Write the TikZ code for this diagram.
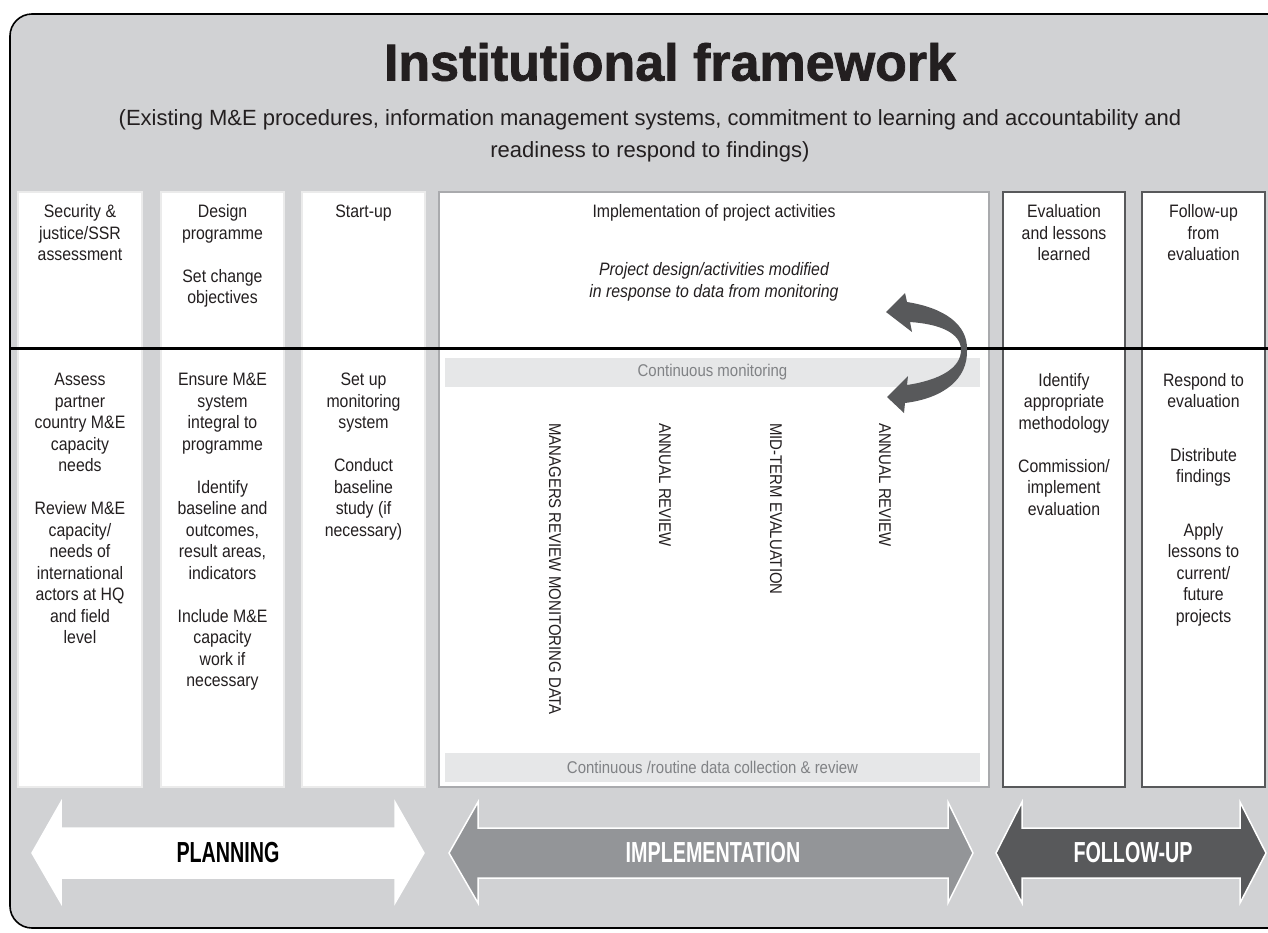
\documentclass[tikz,border=0pt]{standalone}
\usepackage{fontspec}
\setmainfont{Liberation Sans}
\newfontfamily\condfont{Liberation Sans}[FakeStretch=0.88]
\newfontfamily\phasefont{Liberation Sans}[FakeStretch=0.68]
\newfontfamily\titlefont{Liberation Sans Bold}[FakeBold=1.5]
\usetikzlibrary{positioning}
\definecolor{framegray}{HTML}{D1D2D4}
\definecolor{bargray}{HTML}{E6E7E8}
\definecolor{bartext}{HTML}{808285}
\definecolor{darkgray}{HTML}{58595B}
\definecolor{midgray}{HTML}{939598}
\definecolor{inkgray}{HTML}{231F20}
\tikzset{colbox/.style={rectangle,fill=white,draw=#1,line width=1.2pt,minimum height=595pt,inner sep=0pt},
		colbox/.default=white!92!black,
		coltext/.style={align=center,inner sep=0pt,anchor=north,text=inkgray,font=\condfont\fontsize{18}{21.5}\selectfont},
		phase/.style={inner sep=0pt,font=\phasefont\bfseries\fontsize{29}{30}\selectfont}}

\begin{document}
\begin{tikzpicture}[x=1pt,y=-1pt,
		bar/.style={rectangle,fill=bargray,minimum width=535pt,minimum height=29pt,inner sep=0pt,text=bartext,font=\condfont\fontsize{17}{20}\selectfont},
		vtext/.style={rotate=-90,anchor=west,inner sep=0pt,text=inkgray,font=\condfont\fontsize{17}{20}\selectfont},
		phasearrow/.style={draw=white,line width=1.5pt,line join=miter}]
		\useasboundingbox (0,0) rectangle (1268,932);
		% frame
		\draw[fill=framegray,line width=1.6pt,rounded corners=22pt] (10,14) rectangle (1310,928);
		\node[font=\titlefont\fontsize{52}{60}\selectfont,text=inkgray,inner sep=0pt] (title) at (670,62) {Institutional framework};
		\node[align=center,text=inkgray,inner sep=0pt,anchor=north,font=\fontsize{22}{32}\selectfont] (subtitle) at (650,109) {(Existing M\&E procedures, information management systems, commitment to learning and accountability and\\readiness to respond to findings)};
		
		% columns
		\node[colbox,minimum width=124pt] (security) at (80,489.5) {};
		\node[colbox,minimum width=123pt] (design) at (222.5,489.5) {};
		\node[colbox,minimum width=123pt] (startup) at (363.5,489.5) {};
		\node[colbox=midgray!80!white,minimum width=550pt] (implementation) at (714,489.5) {};
		\node[colbox=darkgray,minimum width=122pt] (evaluation) at (1064,489.5) {};
		\node[colbox=darkgray,minimum width=123pt] (followup) at (1203.5,489.5) {};
		\draw[line width=3pt] (10,348) -- (1268,348);
		
		% column heads
		\node[coltext,below=13pt of security.north] (security-head) {Security \&\\justice/SSR\\assessment};
		\node[coltext,below=13pt of design.north] (design-head) {Design\\programme\\[21.5pt]Set change\\objectives};
		\node[coltext,below=13pt of startup.north] (startup-head) {Start-up};
		\node[coltext,below=13pt of implementation.north] (implementation-head) {Implementation of project activities};
		\node[coltext,below=58pt of implementation-head.north] (modified) {\itshape Project design/activities modified\\\itshape in response to data from monitoring};
		\node[coltext,below=13pt of evaluation.north] (evaluation-head) {Evaluation\\and lessons\\learned};
		\node[coltext,below=13pt of followup.north] (followup-head) {Follow-up\\from\\evaluation};
		
		% column tasks
		\node[coltext] (security-tasks) at (80,373) {Assess\\partner\\country M\&E\\capacity\\needs\\[21.5pt]Review M\&E\\capacity/\\needs of\\international\\actors at HQ\\and field\\level};
		\node[coltext] (design-tasks) at (222.5,373) {Ensure M\&E\\system\\integral to\\programme\\[21.5pt]Identify\\baseline and\\outcomes,\\result areas,\\indicators\\[21.5pt]Include M\&E\\capacity\\work if\\necessary};
		\node[coltext] (startup-tasks) at (363.5,373) {Set up\\monitoring\\system\\[21.5pt]Conduct\\baseline\\study (if\\necessary)};
		\node[coltext] (evaluation-tasks) at (1064,373) {Identify\\appropriate\\methodology\\[21.5pt]Commission/\\implement\\evaluation};
		\node[coltext] (followup-tasks) at (1203.5,373) {Respond to\\evaluation\\[32pt]Distribute\\findings\\[32pt]Apply\\lessons to\\current/\\future\\projects};
		
		% monitoring bars and reviews
		\node[bar] (monitoring) at (712.5,372) {Continuous monitoring};
		\node[bar] (routine) at (712.5,767) {Continuous /routine data collection \& review};
		\node[vtext] (managers-review) at (555,423) {MANAGERS REVIEW MONITORING DATA};
		\node[vtext] (annual-review-1) at (665,423) {ANNUAL REVIEW};
		\node[vtext] (midterm) at (776,423) {MID-TERM EVALUATION};
		\node[vtext] (annual-review-2) at (885,423) {ANNUAL REVIEW};
		
		% feedback loop
		\fill[darkgray] (886,312) -- (905,293) -- (907,302) .. controls (945,308) and (968,325) .. (967,350) .. controls (968,378) and (945,398) .. (905,403) -- (904,413) -- (887,397) -- (908,376) -- (907,385) .. controls (940,380) and (961,368) .. (961,350) .. controls (961,333) and (940,324) .. (910,322) -- (912,332) -- cycle;
		
		% phases
		\draw[phasearrow,fill=white] (32,853) -- (61,802) -- (61,828) -- (395,828) -- (395,802) -- (424,853) -- (395,903) -- (395,878) -- (61,878) -- (61,903) -- cycle;
		\node[phase,text=black] (planning) at (228,853) {PLANNING};
		\draw[phasearrow,fill=midgray] (449,853) -- (478,802) -- (478,828) -- (948,828) -- (948,802) -- (973,853) -- (948,903) -- (948,878) -- (478,878) -- (478,903) -- cycle;
		\node[phase,text=white] (implementation-phase) at (713,853) {IMPLEMENTATION};
		\draw[phasearrow,fill=darkgray] (996,853) -- (1022,802) -- (1022,828) -- (1240,828) -- (1240,802) -- (1266,853) -- (1240,903) -- (1240,878) -- (1022,878) -- (1022,903) -- cycle;
		\node[phase,text=white] (followup-phase) at (1133,853) {FOLLOW-UP};
	\end{tikzpicture}
\end{document}
